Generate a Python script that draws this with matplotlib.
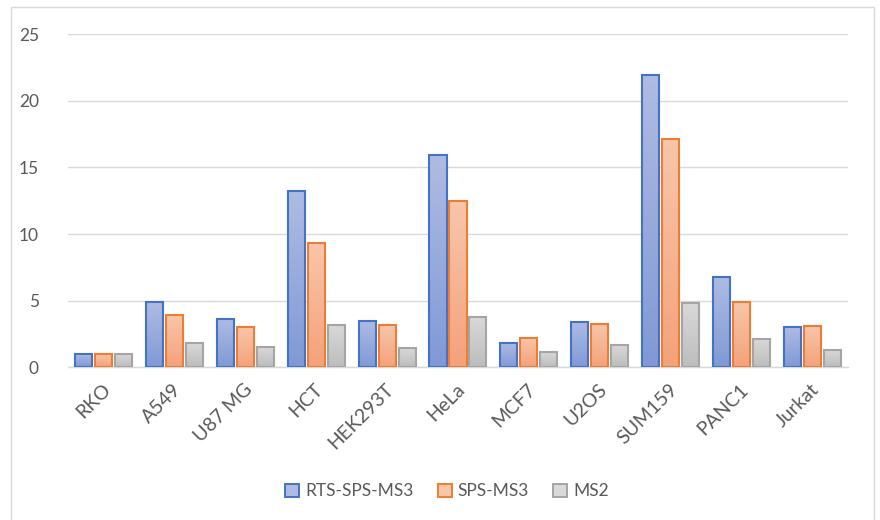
import numpy as np
import matplotlib
matplotlib.use("Agg")
import matplotlib.pyplot as plt
from matplotlib.patches import Rectangle
from matplotlib.colors import LinearSegmentedColormap

plt.rcParams['font.family'] = ['Lato', 'DejaVu Sans']

cell_lines = ["RKO", "A549", "U87 MG", "HCT", "HEK293T", "HeLa", "MCF7",
              "U2OS", "SUM159", "PANC1", "Jurkat"]
rts_sps_ms3 = [1.0, 4.9, 3.6, 13.2, 3.5, 15.9, 1.8, 3.4, 21.9, 6.8, 3.0]
sps_ms3 = [1.0, 3.95, 3.0, 9.3, 3.15, 12.5, 2.2, 3.25, 17.1, 4.9, 3.1]
ms2 = [1.0, 1.85, 1.55, 3.2, 1.45, 3.75, 1.15, 1.7, 4.8, 2.1, 1.3]

series_names = ["RTS-SPS-MS3", "SPS-MS3", "MS2"]
# (top colour, bottom colour, edge colour)
styles = [("#aebce3", "#8099d6", "#4472c4"),
          ("#f8c6ab", "#f4a27a", "#ed7d31"),
          ("#d9d9d9", "#bdbdbd", "#a5a5a5")]
yticks = [0, 5, 10, 15, 20, 25]

fig = plt.figure(figsize=(8.8, 5.2), dpi=100)
ax = fig.add_axes([0.0773, 0.2933, 0.8863, 0.6413])

x = np.arange(len(cell_lines))
width = 0.24
step = 0.282
grad = np.linspace(0, 1, 64).reshape(-1, 1)

for i, (vals, (top, bot, edge)) in enumerate(zip([rts_sps_ms3, sps_ms3, ms2], styles)):
    cmap = LinearSegmentedColormap.from_list(series_names[i], [bot, top])
    offset = (i - 1) * step
    for xc, v in zip(x, vals):
        x0 = xc + offset - width / 2
        ax.imshow(grad, cmap=cmap, origin="lower", aspect="auto",
                  extent=(x0, x0 + width, 0, v), zorder=2, interpolation="bilinear")
        ax.add_patch(Rectangle((x0, 0), width, v, facecolor="none",
                               edgecolor=edge, linewidth=1.5, zorder=3))

ax.set_xlim(-0.5, len(cell_lines) - 0.5)
ax.set_ylim(0, 25)
ax.set_yticks(yticks)
ax.set_yticklabels([str(t) for t in yticks])
ax.yaxis.grid(True, color="#d9d9d9", linewidth=1.0, zorder=0)
ax.set_axisbelow(True)
for s in ["top", "right", "left"]:
    ax.spines[s].set_visible(False)
ax.spines["bottom"].set_color("#d9d9d9")
ax.spines["bottom"].set_linewidth(1.0)
ax.tick_params(axis="both", length=0, colors="#595959", labelsize=12.5)
ax.tick_params(axis="y", pad=21)

ax.set_xticks(x)
ax.set_xticklabels([])
for xc, name in zip(x, cell_lines):
    ax.annotate(name, xy=(xc, 0), xycoords=("data", "axes fraction"),
                xytext=(3, -14), textcoords="offset points",
                rotation=45, ha="right", va="center", rotation_mode="anchor",
                color="#595959", fontsize=14)

handles = [Rectangle((0, 0), 1, 1, facecolor=s[0], edgecolor=s[2], linewidth=1.4)
           for s in styles]
fig.legend(handles, series_names, loc="center", bbox_to_anchor=(0.508, 0.055),
           ncol=3, frameon=False, fontsize=12.5, labelcolor="#595959",
           handlelength=0.8, handleheight=0.8, handletextpad=0.35, columnspacing=1.4)

# outer chart frame
fig.patches.append(Rectangle((0.012, -0.05), 0.981, 1.0365, transform=fig.transFigure,
                             facecolor="none", edgecolor="#d9d9d9", linewidth=1.0))

fig.savefig("out.png", dpi=100)
